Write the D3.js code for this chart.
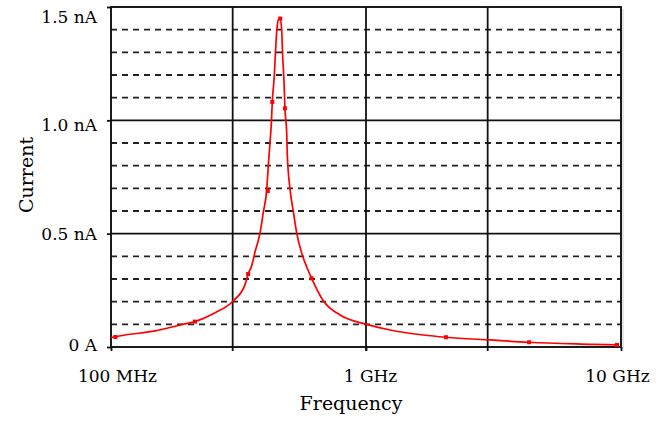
<!DOCTYPE html>
<html>
<head>
<meta charset="utf-8">
<script src="https://cdn.jsdelivr.net/npm/d3@7"></script>
<style>
  body { margin: 0; background: #fff; }
  text { font-family: "DejaVu Serif", "Liberation Serif", serif; fill: #000; }
</style>
</head>
<body>
<svg id="chart"></svg>
<script>
// curve: frequency (MHz) and current (nA)
var freqMHz = [100, 113.5, 149, 186.5, 213.5, 256, 302, 335, 345, 357, 367, 384, 396, 408, 414, 420, 425, 429,
  437, 441, 447, 453, 461, 467, 471, 477, 481, 489, 491, 504, 519, 535, 560, 585, 612, 680, 791, 1006,
  1242, 1677, 2059, 3064, 4358, 7762, 9645];
var currentNA = [0.042, 0.053, 0.071, 0.097, 0.112, 0.151, 0.204, 0.274, 0.322, 0.362, 0.419, 0.502, 0.597,
  0.693, 0.803, 0.899, 0.979, 1.081, 1.200, 1.288, 1.398, 1.443, 1.449, 1.398, 1.288, 1.170, 1.053, 0.935,
  0.855, 0.693, 0.597, 0.502, 0.413, 0.354, 0.303, 0.204, 0.141, 0.100, 0.075, 0.053, 0.043, 0.031, 0.021,
  0.012, 0.009];

// sample points shown as small squares
var markerFreq = [104, 213.5, 345, 412, 429, 461, 481, 612, 2059, 4358, 9645];
var markerCurrent = [0.044, 0.112, 0.322, 0.688, 1.081, 1.449, 1.053, 0.303, 0.043, 0.021, 0.009];

var yTicks = [0, 0.5, 1.0, 1.5];
var yTickLabels = ["0 A", "0.5 nA", "1.0 nA", "1.5 nA"];
var xTicks = [100, 1000, 10000];
var xTickLabels = ["100 MHz", "1 GHz", "10 GHz"];
var xGrid = [300, 1000, 3000];
var yMinor = d3.range(1, 15).filter(d => d % 5 !== 0).map(d => d / 10);

var width = 665, height = 422;
var plotLeft = 111, plotRight = 621, plotTop = 7, plotBottom = 347;

var svg = d3.select("#chart").attr("width", width).attr("height", height);

var x = d3.scaleLog().domain([100, 10000]).range([plotLeft, plotRight]);
var y = d3.scaleLinear().domain([0, 1.5]).range([plotBottom, plotTop]);

// dashed minor grid
svg.append("g").selectAll("line").data(yMinor).enter().append("line")
  .attr("x1", plotLeft).attr("x2", plotRight)
  .attr("y1", d => y(d)).attr("y2", d => y(d))
  .attr("stroke", "#222").attr("stroke-width", 1.9)
  .attr("stroke-dasharray", "6,5");

// solid grid
svg.append("g").selectAll("line").data([0.5, 1.0]).enter().append("line")
  .attr("x1", plotLeft).attr("x2", plotRight)
  .attr("y1", d => y(d)).attr("y2", d => y(d))
  .attr("stroke", "#111").attr("stroke-width", 1.8);

svg.append("g").selectAll("line").data(xGrid).enter().append("line")
  .attr("x1", d => x(d)).attr("x2", d => x(d))
  .attr("y1", plotTop).attr("y2", plotBottom + 4)
  .attr("stroke", "#111").attr("stroke-width", 1.8);

// frame
svg.append("rect")
  .attr("x", plotLeft).attr("y", plotTop)
  .attr("width", plotRight - plotLeft).attr("height", plotBottom - plotTop)
  .attr("fill", "none").attr("stroke", "#111").attr("stroke-width", 1.9);
svg.append("line")
  .attr("x1", plotRight + 2).attr("x2", plotRight + 2).attr("y1", plotTop + 2).attr("y2", plotBottom + 2)
  .attr("stroke", "#ccc").attr("stroke-width", 1);

// axes
var yAxis = d3.axisLeft(y).tickValues(yTicks).tickSize(4)
  .tickFormat((d, i) => yTickLabels[i]);
var gy = svg.append("g").attr("transform", "translate(" + plotLeft + ",0)").call(yAxis);
gy.select(".domain").remove();
gy.selectAll(".tick line").attr("stroke", "#111").attr("stroke-width", 1.8);
var yOffset = [-3, 0, 4, 9];
gy.selectAll(".tick text")
  .attr("x", -14)
  .attr("dy", (d, i) => (yOffset[i] + 6) + "px")
  .style("font-size", "17px")
  .style("font-family", "DejaVu Serif")
  .style("fill", "#000");

var xAxis = d3.axisBottom(x).tickValues(xTicks).tickSize(4)
  .tickFormat((d, i) => xTickLabels[i]);
var gx = svg.append("g").attr("transform", "translate(0," + plotBottom + ")").call(xAxis);
gx.select(".domain").remove();
gx.selectAll(".tick line").attr("stroke", "#111").attr("stroke-width", 1.8);
var xOffset = [6, 4, -4];
gx.selectAll(".tick text")
  .attr("x", (d, i) => xOffset[i])
  .attr("y", 23)
  .attr("dy", "0.71em")
  .style("font-size", "17px")
  .style("font-family", "DejaVu Serif")
  .style("fill", "#000");

// axis titles
svg.append("text")
  .attr("x", 351).attr("y", 410)
  .attr("text-anchor", "middle")
  .style("font-size", "19px")
  .text("Frequency");

svg.append("text")
  .attr("transform", "translate(33,175) rotate(-90)")
  .attr("text-anchor", "middle")
  .style("font-size", "19px")
  .text("Current");

// curve
var points = freqMHz.map((f, i) => [f, currentNA[i]]);
var line = d3.line()
  .x(d => x(d[0]))
  .y(d => y(d[1]))
  .curve(d3.curveMonotoneX);

svg.append("path")
  .datum(points)
  .attr("d", line)
  .attr("fill", "none")
  .attr("stroke", "#ff0000")
  .attr("stroke-width", 1.7);

svg.append("g").selectAll("rect").data(markerFreq).enter().append("rect")
  .attr("x", (d) => x(d) - 2)
  .attr("y", (d, i) => y(markerCurrent[i]) - 2)
  .attr("width", 4).attr("height", 4)
  .attr("fill", "#ff0000");
</script>
</body>
</html>
